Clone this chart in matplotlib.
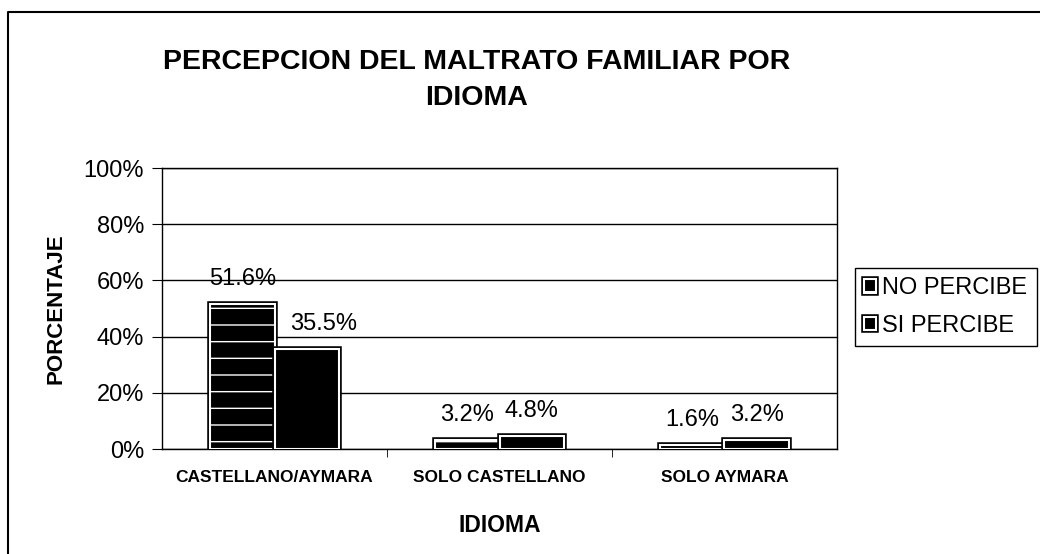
import numpy as np
import matplotlib.pyplot as plt
import matplotlib.patheffects as pe
from matplotlib.lines import Line2D

plt.rcParams['font.family'] = ['Liberation Sans', 'DejaVu Sans']

# datos
idiomas = ['CASTELLANO/AYMARA', 'SOLO CASTELLANO', 'SOLO AYMARA']
series = ['NO PERCIBE', 'SI PERCIBE']
no_percibe = [51.6, 3.2, 1.6]
si_percibe = [35.5, 4.8, 3.2]
yticks = [0, 20, 40, 60, 80, 100]

fig = plt.figure(figsize=(10.4, 5.54), dpi=100)
ax = fig.add_axes([0.1558, 0.1895, 0.649, 0.5072])

x = np.arange(len(idiomas))
w = 0.287
contorno = [pe.Stroke(linewidth=4, foreground='black'), pe.Normal()]

b1 = ax.bar(x - w / 2, no_percibe, w, color='black', edgecolor='white',
            linewidth=1.5, hatch='-', label=series[0], zorder=3)
b2 = ax.bar(x + w / 2, si_percibe, w, color='black', edgecolor='white',
            linewidth=1.5, label=series[1], zorder=3)
for r in list(b1) + list(b2):
    r.set_path_effects(contorno)

# etiquetas de valor (Excel desplaza la que choca con la barra vecina)
for barras in (b1, b2):
    for r in barras:
        v = r.get_height()
        dx = 12 if v > 30 and barras is b2 else 0
        ax.annotate(f'{v:.1f}%', (r.get_x() + r.get_width() / 2, v),
                    xytext=(dx, 10), textcoords='offset points',
                    ha='center', va='bottom', fontsize=17, zorder=4)

ax.set_xlim(-0.5, len(idiomas) - 0.5)
ax.set_ylim(0, 100)
ax.set_yticks(yticks)
ax.set_yticklabels([f'{t}%' for t in yticks])
ax.yaxis.grid(True, color='black', linewidth=1)
ax.set_axisbelow(True)

ax.set_xticks(x)
ax.set_xticklabels(idiomas, fontsize=12.5, fontweight='bold')
ax.set_xticks(x[:-1] + 0.5, minor=True)
ax.tick_params(axis='x', which='major', length=0, pad=15)
ax.tick_params(axis='x', which='minor', length=6, direction='out')
ax.tick_params(axis='y', length=7, direction='out', labelsize=17, pad=6)

for s in ax.spines.values():
    s.set_linewidth(1)
    s.set_color('black')

ax.set_ylabel('PORCENTAJE', fontsize=16, fontweight='bold', labelpad=12)
ax.set_xlabel('IDIOMA', fontsize=16.5, fontweight='bold')
ax.xaxis.set_label_coords(0.5, -0.23)

fig.text(477 / 1040, 1 - 80 / 554, 'PERCEPCION DEL MALTRATO FAMILIAR POR\nIDIOMA',
         ha='center', va='center', fontsize=20.5, fontweight='bold', linespacing=1.5)

leg = ax.legend(loc='upper left', bbox_to_anchor=(855 / 1040, 1 - 268 / 554),
                bbox_transform=fig.transFigure, fontsize=17, fancybox=False,
                edgecolor='black', framealpha=1, handlelength=0.5,
                handleheight=0.5, handletextpad=0.25, labelspacing=0.65,
                borderpad=0.4, borderaxespad=0)
leg.get_frame().set_linewidth(1)

# marco exterior del grafico
fig.add_artist(Line2D([7.5 / 1040, 7.5 / 1040, 1], [0, 1 - 12 / 554, 1 - 12 / 554],
                      transform=fig.transFigure, color='black', linewidth=1.5))

fig.savefig('out.png', dpi=100)
